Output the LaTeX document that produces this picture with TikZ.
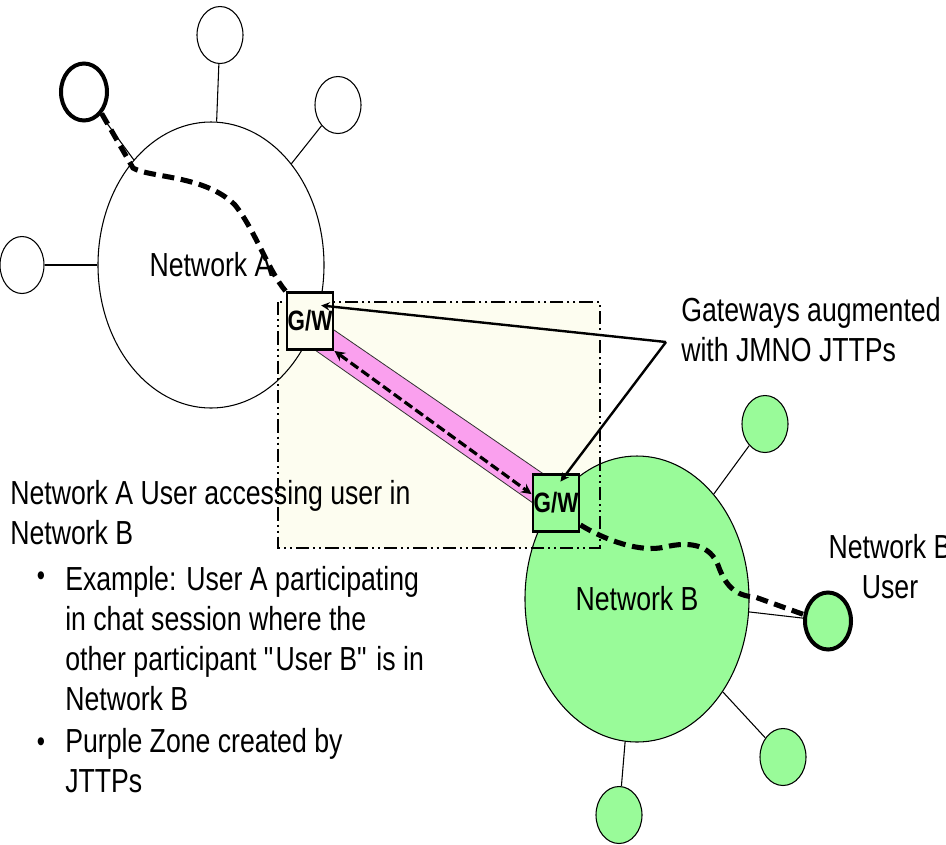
\documentclass[tikz,border=0pt]{standalone}
\usepackage{fontspec}
\setmainfont{Liberation Sans}[FakeStretch=0.8]
\usetikzlibrary{shapes.geometric}

\definecolor{zonebg}{RGB}{253,253,240}
\definecolor{netgreen}{RGB}{153,251,153}
\definecolor{zonepink}{RGB}{250,160,238}
\newcommand{\pxu}{0.75pt}

\begin{document}
\begin{tikzpicture}[>=stealth, x=0.75pt, y=-0.75pt,
    every node/.style={font=\fontsize{25pt}{30pt}\selectfont},
    net/.style={draw, ellipse, inner sep=0pt, line width=0.8pt},
    host/.style={draw, ellipse, inner sep=0pt, line width=0.8pt,
        minimum width=46*\pxu, minimum height=57*\pxu},
    user/.style={host, line width=3pt},
    gw/.style={draw, rectangle, line width=2.2pt, inner sep=0pt,
        minimum width=46*\pxu, minimum height=57*\pxu,
        font=\fontsize{21pt}{24pt}\selectfont\bfseries},
    link/.style={line width=0.8pt},
    route/.style={line width=3.8pt, dash pattern=on 9pt off 5pt},
    callout/.style={->, line width=1.8pt},
    txt/.style={inner sep=0pt, anchor=base west, align=left},
    dot/.style={inner sep=0pt, font=\fontsize{22pt}{22pt}\selectfont}]

    \useasboundingbox (0,0) rectangle (946,844);

    % Zone behind the gateways
    \fill[zonebg] (278,302) rectangle (600,548);

    % Network A and its hosts
    \node[net, minimum width=226*\pxu, minimum height=286*\pxu] (netA) at (211,265) {Network A};
    \node[host] (hostA1) at (220,35) {};
    \node[host] (hostA2) at (338,105) {};
    \node[host, minimum width=44*\pxu] (hostA3) at (22,265) {};
    \node[user] (userA) at (84,92) {};

    % Network B and its hosts
    \node[net, fill=netgreen, minimum width=224*\pxu, minimum height=286*\pxu] (netB) at (637,599) {Network B};
    \node[host, fill=netgreen] (hostB1) at (765,424) {};
    \node[host, fill=netgreen] (hostB2) at (783,757) {};
    \node[host, fill=netgreen] (hostB3) at (619,815) {};
    \node[user, fill=netgreen] (userB) at (828,621) {};

    % Connect hosts to networks
    \draw[link] (netA) -- (hostA1);
    \draw[link] (netA) -- (hostA2);
    \draw[link] (netA) -- (hostA3);
    \draw[link] (netA) -- (userA);
    \draw[link] (netB) -- (hostB1);
    \draw[link] (netB) -- (hostB2);
    \draw[link] (netB) -- (hostB3);
    \draw[link] (netB) -- (userB);

    % Zone border
    \draw[line width=1.8pt, dash pattern=on 10pt off 3pt on 1.5pt off 3pt on 1.5pt off 3pt]
        (278,302) rectangle (600,548);

    % Purple zone
    \filldraw[fill=zonepink, draw=black!80, line width=0.6pt]
        (315,350) -- (334,330) -- (545,475) -- (533,503) -- cycle;

    % Gateways
    \node[gw, fill=zonebg] (gwA) at (310,321) {G/W};
    \node[gw, fill=netgreen] (gwB) at (556,503) {G/W};

    % User A to user B
    \draw[route] (userA.south east) -- (133,168)
        .. controls (150,178) and (205,175) .. (235,205)
        .. controls (255,230) and (268,270) .. (gwA.north west);
    \draw[<->, line width=2.4pt, dash pattern=on 7pt off 3pt] (gwA.south east) -- (gwB.160);
    \draw[route] ([yshift=6pt]gwB.south east)
        .. controls (605,540) and (640,553) .. (665,547)
        .. controls (690,541) and (710,545) .. (718,565)
        .. controls (725,585) and (735,596) .. (755,597) -- (userB.165);

    % Gateway note
    \coordinate (callpt) at (666,342);
    \draw[callout, shorten >=-10pt] (callpt) -- (gwA.30);
    \draw[callout, shorten >=-8pt] (callpt) -- (gwB.70);
    \node[txt] (gwnote) at (681,361) {Gateways augmented\\with JMNO JTTPs};

    % Network B user
    \node[inner sep=0pt, anchor=base, align=center] (userBnote) at (890,598) {Network B\\User};

    % Description
    \node[txt] (desc) at (10,544) {Network A User accessing user in\\Network B};
    \node[dot] (bul1) at (41,579) {\textbullet};
    \node[txt] (example) at (65,710) {Example: User A participating\\in chat session where the\\other participant \textquotedbl User B\textquotedbl{} is in\\Network B};
    \node[dot] (bul2) at (41,745) {\textbullet};
    \node[txt] (zone) at (65,792) {Purple Zone created by\\JTTPs};

\end{tikzpicture}
\end{document}
